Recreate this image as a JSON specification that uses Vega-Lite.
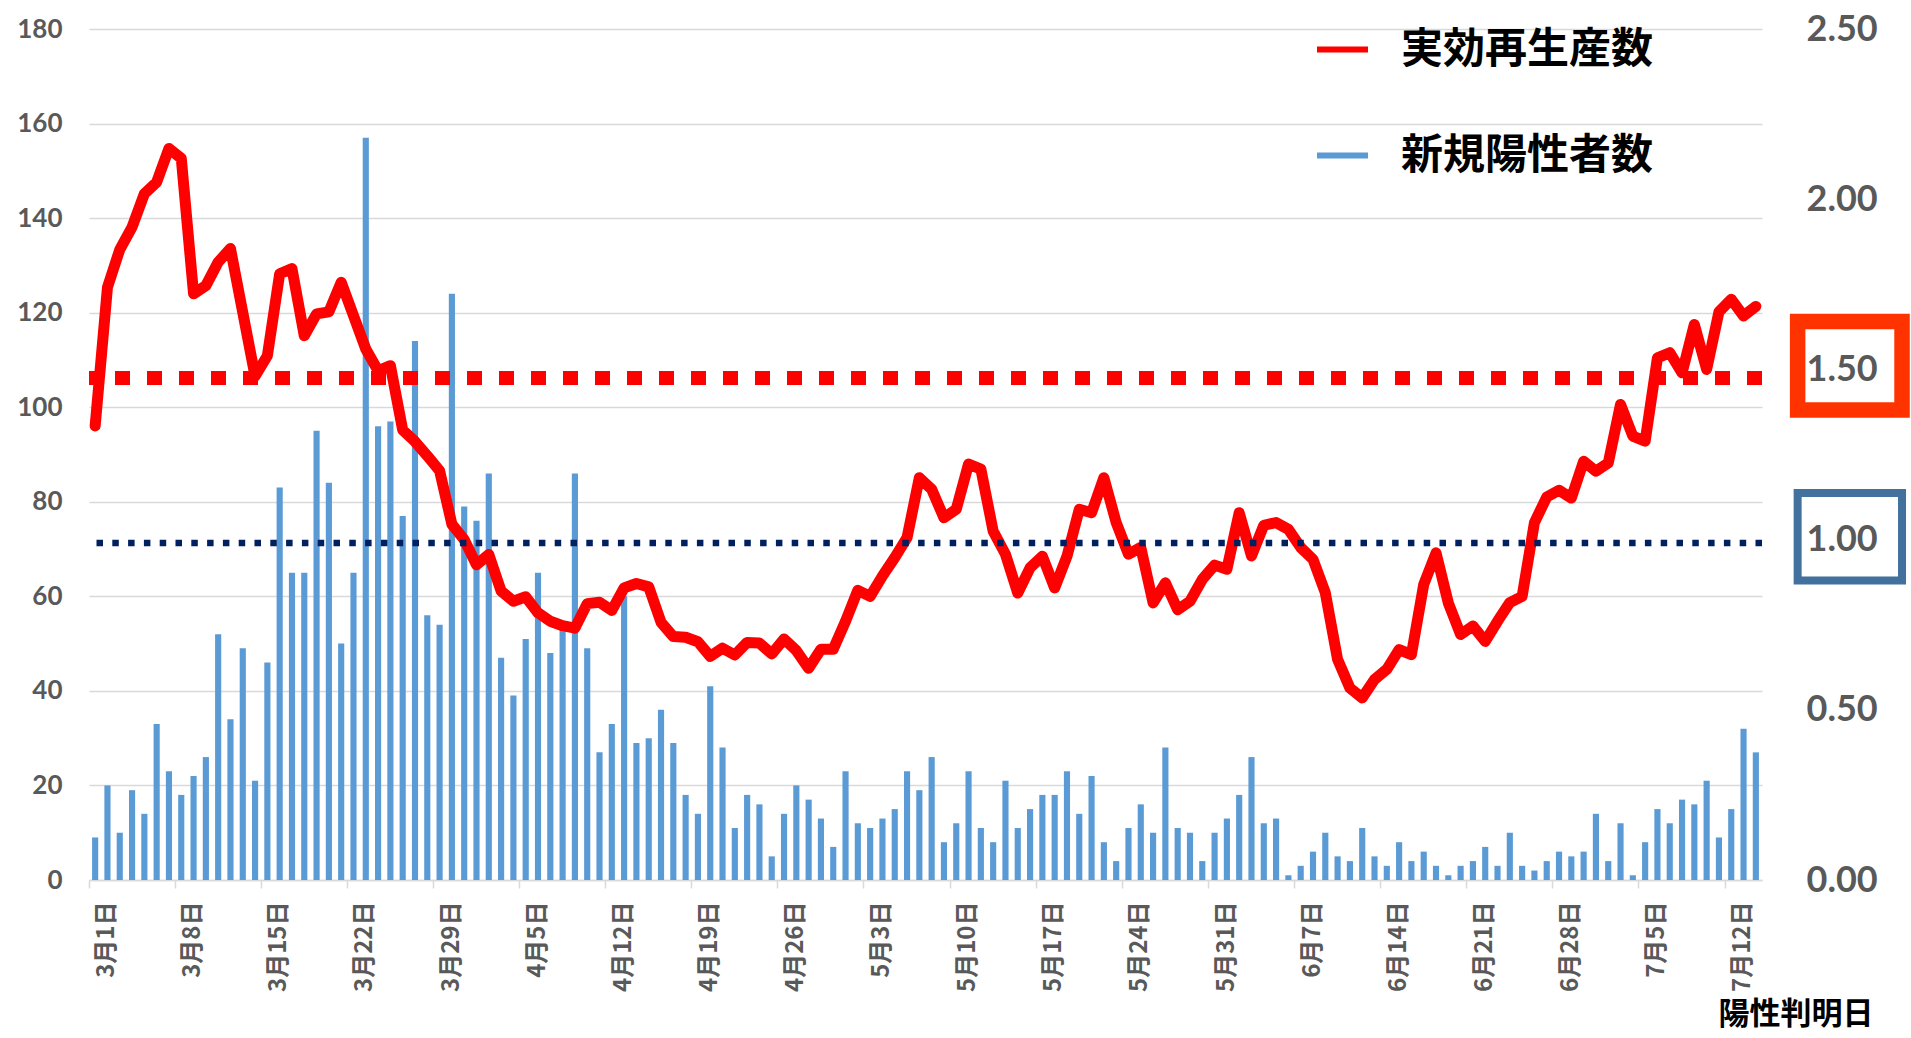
{
 "$schema": "https://vega.github.io/schema/vega-lite/v6.json",
 "width": 1673,
 "height": 851,
 "autosize": {"type": "none"},
 "padding": {"left": 89, "top": 29, "right": 149, "bottom": 158},
 "background": "white",
 "config": {"view": {"stroke": null}, "font": "Noto Sans CJK JP"},
 "datasets": {
  "main": [
   {"d":"3月1日","n":9,"r":1.334},{"d":"3月2日","n":20,"r":1.741},{"d":"3月3日","n":10,"r":1.852},{"d":"3月4日","n":19,"r":1.918},{"d":"3月5日","n":14,"r":2.016},{"d":"3月6日","n":33,"r":2.05},{"d":"3月7日","n":23,"r":2.149},{"d":"3月8日","n":18,"r":2.12},{"d":"3月9日","n":22,"r":1.722},{"d":"3月10日","n":26,"r":1.746},
   {"d":"3月11日","n":52,"r":1.815},{"d":"3月12日","n":34,"r":1.855},{"d":"3月13日","n":49,"r":1.667},{"d":"3月14日","n":21,"r":1.48},{"d":"3月15日","n":46,"r":1.54},{"d":"3月16日","n":83,"r":1.781},{"d":"3月17日","n":65,"r":1.796},{"d":"3月18日","n":65,"r":1.599},{"d":"3月19日","n":95,"r":1.663},{"d":"3月20日","n":84,"r":1.669},
   {"d":"3月21日","n":50,"r":1.756},{"d":"3月22日","n":65,"r":1.658},{"d":"3月23日","n":157,"r":1.56},{"d":"3月24日","n":96,"r":1.496},{"d":"3月25日","n":97,"r":1.511},{"d":"3月26日","n":77,"r":1.322},{"d":"3月27日","n":114,"r":1.288},{"d":"3月28日","n":56,"r":1.246},{"d":"3月29日","n":54,"r":1.202},{"d":"3月30日","n":124,"r":1.045},
   {"d":"3月31日","n":79,"r":1.0},{"d":"4月1日","n":76,"r":0.926},{"d":"4月2日","n":86,"r":0.956},{"d":"4月3日","n":47,"r":0.849},{"d":"4月4日","n":39,"r":0.819},{"d":"4月5日","n":51,"r":0.832},{"d":"4月6日","n":65,"r":0.785},{"d":"4月7日","n":48,"r":0.76},{"d":"4月8日","n":54,"r":0.747},{"d":"4月9日","n":86,"r":0.74},
   {"d":"4月10日","n":49,"r":0.812},{"d":"4月11日","n":27,"r":0.816},{"d":"4月12日","n":33,"r":0.792},{"d":"4月13日","n":60,"r":0.858},{"d":"4月14日","n":29,"r":0.871},{"d":"4月15日","n":30,"r":0.861},{"d":"4月16日","n":36,"r":0.757},{"d":"4月17日","n":29,"r":0.715},{"d":"4月18日","n":18,"r":0.713},{"d":"4月19日","n":14,"r":0.7},
   {"d":"4月20日","n":41,"r":0.657},{"d":"4月21日","n":28,"r":0.681},{"d":"4月22日","n":11,"r":0.661},{"d":"4月23日","n":18,"r":0.698},{"d":"4月24日","n":16,"r":0.696},{"d":"4月25日","n":5,"r":0.664},{"d":"4月26日","n":14,"r":0.708},{"d":"4月27日","n":20,"r":0.674},{"d":"4月28日","n":17,"r":0.622},{"d":"4月29日","n":13,"r":0.678},
   {"d":"4月30日","n":7,"r":0.678},{"d":"5月1日","n":23,"r":0.76},{"d":"5月2日","n":12,"r":0.851},{"d":"5月3日","n":11,"r":0.833},{"d":"5月4日","n":13,"r":0.893},{"d":"5月5日","n":15,"r":0.947},{"d":"5月6日","n":23,"r":1.006},{"d":"5月7日","n":19,"r":1.182},{"d":"5月8日","n":26,"r":1.148},{"d":"5月9日","n":8,"r":1.064},
   {"d":"5月10日","n":12,"r":1.089},{"d":"5月11日","n":23,"r":1.222},{"d":"5月12日","n":11,"r":1.207},{"d":"5月13日","n":8,"r":1.025},{"d":"5月14日","n":21,"r":0.957},{"d":"5月15日","n":11,"r":0.843},{"d":"5月16日","n":15,"r":0.917},{"d":"5月17日","n":18,"r":0.951},{"d":"5月18日","n":18,"r":0.858},{"d":"5月19日","n":23,"r":0.951},
   {"d":"5月20日","n":14,"r":1.089},{"d":"5月21日","n":22,"r":1.079},{"d":"5月22日","n":8,"r":1.182},{"d":"5月23日","n":4,"r":1.05},{"d":"5月24日","n":11,"r":0.957},{"d":"5月25日","n":16,"r":0.977},{"d":"5月26日","n":10,"r":0.814},{"d":"5月27日","n":28,"r":0.873},{"d":"5月28日","n":11,"r":0.794},{"d":"5月29日","n":10,"r":0.819},
   {"d":"5月30日","n":4,"r":0.883},{"d":"5月31日","n":10,"r":0.925},{"d":"6月1日","n":13,"r":0.913},{"d":"6月2日","n":18,"r":1.079},{"d":"6月3日","n":26,"r":0.952},{"d":"6月4日","n":12,"r":1.042},{"d":"6月5日","n":13,"r":1.05},{"d":"6月6日","n":1,"r":1.03},{"d":"6月7日","n":3,"r":0.977},{"d":"6月8日","n":6,"r":0.942},
   {"d":"6月9日","n":10,"r":0.844},{"d":"6月10日","n":5,"r":0.648},{"d":"6月11日","n":4,"r":0.564},{"d":"6月12日","n":11,"r":0.535},{"d":"6月13日","n":5,"r":0.589},{"d":"6月14日","n":3,"r":0.619},{"d":"6月15日","n":8,"r":0.677},{"d":"6月16日","n":4,"r":0.662},{"d":"6月17日","n":6,"r":0.868},{"d":"6月18日","n":3,"r":0.961},
   {"d":"6月19日","n":1,"r":0.814},{"d":"6月20日","n":3,"r":0.721},{"d":"6月21日","n":4,"r":0.746},{"d":"6月22日","n":7,"r":0.701},{"d":"6月23日","n":3,"r":0.76},{"d":"6月24日","n":10,"r":0.815},{"d":"6月25日","n":3,"r":0.833},{"d":"6月26日","n":2,"r":1.05},{"d":"6月27日","n":4,"r":1.125},{"d":"6月28日","n":6,"r":1.145},
   {"d":"6月29日","n":5,"r":1.122},{"d":"6月30日","n":6,"r":1.23},{"d":"7月1日","n":14,"r":1.201},{"d":"7月2日","n":4,"r":1.225},{"d":"7月3日","n":12,"r":1.397},{"d":"7月4日","n":1,"r":1.304},{"d":"7月5日","n":8,"r":1.289},{"d":"7月6日","n":15,"r":1.534},{"d":"7月7日","n":12,"r":1.549},{"d":"7月8日","n":17,"r":1.49},
   {"d":"7月9日","n":16,"r":1.632},{"d":"7月10日","n":21,"r":1.5},{"d":"7月11日","n":9,"r":1.669},{"d":"7月12日","n":15,"r":1.706},{"d":"7月13日","n":32,"r":1.657},{"d":"7月14日","n":27,"r":1.685}
  ]
 },
 "data": {"name": "main"},
 "resolve": {"scale": {"x": "independent", "y": "independent"}},
 "layer": [
  {
   "mark": {"type": "bar", "width": {"band": 0.5}},
   "encoding": {
    "x": {
     "field": "d", "type": "ordinal", "sort": null,
     "scale": {"type": "band", "paddingInner": 0, "paddingOuter": 0},
     "axis": {
      "title": "陽性判明日",
      "values": ["3月1日","3月8日","3月15日","3月22日","3月29日","4月5日","4月12日","4月19日","4月26日","5月3日","5月10日","5月17日","5月24日","5月31日","6月7日","6月14日","6月21日","6月28日","7月5日","7月12日"],
      "bandPosition": 0,
      "labelAngle": 270,
      "labelOffset": 12,
      "labelPadding": 13,
      "labelFont": "Noto Sans CJK JP",
      "labelFontSize": 24,
      "labelFontWeight": "bold",
      "labelColor": "#595959",
      "ticks": true, "tickSize": 8, "tickColor": "#D9D9D9", "tickWidth": 1.5,
      "domain": true, "domainColor": "#D9D9D9", "domainWidth": 1.5,
      "grid": false,
      "titleFont": "Noto Sans CJK JP", "titleFontSize": 31, "titleFontWeight": "bold", "titleColor": "#000000",
      "titleX": 1784, "titleY": 134, "titleAlign": "right", "titleBaseline": "middle", "titleAnchor": null
     }
    },
    "y": {
     "field": "n", "type": "quantitative",
     "scale": {"domain": [0, 180], "nice": false},
     "axis": {
      "title": null, "orient": "left",
      "values": [0, 20, 40, 60, 80, 100, 120, 140, 160, 180],
      "grid": true, "gridColor": "#D9D9D9", "gridWidth": 1.5,
      "domain": false, "ticks": false,
      "labelFont": "Lato", "labelFontSize": 26, "labelFontWeight": "bold", "labelColor": "#595959", "labelPadding": 27
     }
    },
    "color": {
     "datum": "新規陽性者数", "type": "nominal",
     "scale": {"domain": ["実効再生産数", "新規陽性者数"], "range": ["#FF0000", "#5B9BD5"]},
     "legend": {
      "title": null, "orient": "none", "legendX": 1225, "legendY": -8, "direction": "vertical",
      "symbolType": "stroke", "symbolSize": 2601, "symbolStrokeWidth": 6,
      "labelFont": "Noto Sans CJK JP", "labelFontSize": 42, "labelFontWeight": "bold", "labelColor": "#000000",
      "labelOffset": 30, "rowPadding": 56, "padding": 0, "labelLimit": 0,
      "encode": {"symbols": {"update": {"stroke": {"scale": "color", "field": "value"}, "strokeWidth": {"value": 6}}}}
     }
    }
   }
  },
  {
   "mark": {"type": "line", "strokeWidth": 11, "strokeJoin": "round", "strokeCap": "round"},
   "encoding": {
    "x": {"field": "d", "type": "ordinal", "sort": null, "scale": {"type": "point", "padding": 0.5}, "axis": null},
    "y": {
     "field": "r", "type": "quantitative",
     "scale": {"domain": [0, 2.5], "nice": false},
     "axis": {
      "title": null, "orient": "right",
      "values": [0, 0.5, 1, 1.5, 2, 2.5], "format": ".2f",
      "grid": false, "domain": false, "ticks": false,
      "labelFont": "Lato", "labelFontSize": 36, "labelFontWeight": "bold", "labelColor": "#595959", "labelPadding": 44
     }
    },
    "color": {"datum": "実効再生産数", "type": "nominal"}
   }
  },
  {
   "data": {"values": [{}]},
   "mark": {"type": "rule", "color": "#FF0000", "strokeWidth": 14, "strokeDash": [15, 17], "strokeCap": "butt"},
   "encoding": {"y": {"datum": 1.475, "type": "quantitative", "scale": {"domain": [0, 2.5], "nice": false}, "axis": null}}
  },
  {
   "data": {"values": [{}]},
   "mark": {"type": "rule", "color": "#002060", "strokeWidth": 6.5, "strokeDash": [6.5, 9.3], "strokeCap": "butt"},
   "encoding": {"y": {"datum": 0.99, "type": "quantitative", "scale": {"domain": [0, 2.5], "nice": false}, "axis": null}}
  },
  {
   "data": {"values": [{}]},
   "mark": {"type": "rect", "filled": false, "stroke": "#FF3300", "strokeWidth": 15.5},
   "encoding": {
    "x": {"datum": 1.0213, "type": "quantitative", "scale": {"domain": [0, 1], "nice": false, "zero": false}, "axis": null},
    "x2": {"datum": 1.0837},
    "y": {"datum": 1.381, "type": "quantitative", "scale": {"domain": [0, 2.5], "nice": false}, "axis": null},
    "y2": {"datum": 1.641}
   }
  },
  {
   "data": {"values": [{}]},
   "mark": {"type": "rect", "filled": false, "stroke": "#41719C", "strokeWidth": 8},
   "encoding": {
    "x": {"datum": 1.0213, "type": "quantitative", "scale": {"domain": [0, 1], "nice": false, "zero": false}, "axis": null},
    "x2": {"datum": 1.0837},
    "y": {"datum": 0.88, "type": "quantitative", "scale": {"domain": [0, 2.5], "nice": false}, "axis": null},
    "y2": {"datum": 1.137}
   }
  }
 ]
}
